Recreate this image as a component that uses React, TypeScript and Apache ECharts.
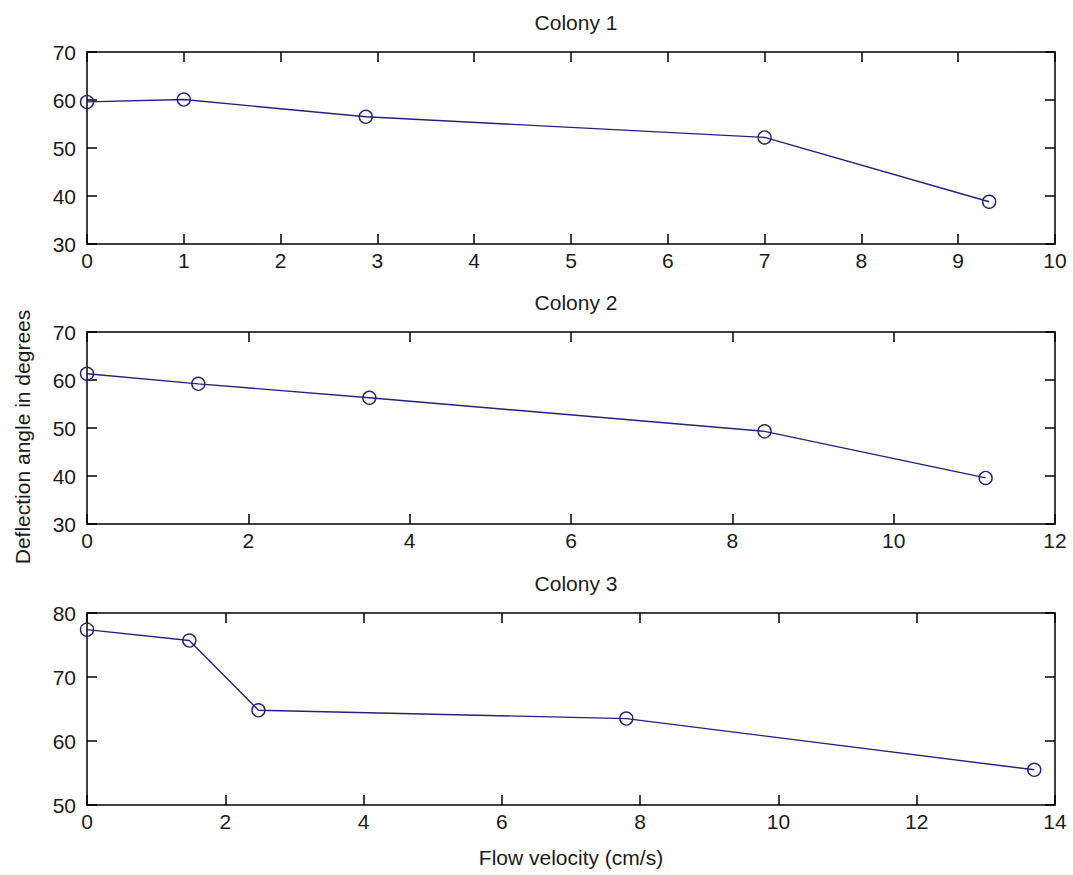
import React, { useEffect, useRef } from "react";
import * as echarts from "echarts";

const colony1X = [0, 1, 2.88, 7, 9.32];
const colony1Y = [59.6, 60.1, 56.5, 52.2, 38.8];
const colony2X = [0, 1.38, 3.5, 8.4, 11.14];
const colony2Y = [61.3, 59.2, 56.3, 49.3, 39.6];
const colony3X = [0, 1.48, 2.48, 7.8, 13.7];
const colony3Y = [77.4, 75.7, 64.8, 63.5, 55.5];

const titles = ["Colony 1", "Colony 2", "Colony 3"];
const xRanges = [
  { min: 0, max: 10, interval: 1 },
  { min: 0, max: 12, interval: 2 },
  { min: 0, max: 14, interval: 2 },
];
const yRanges = [
  { min: 30, max: 70, interval: 10 },
  { min: 30, max: 70, interval: 10 },
  { min: 50, max: 80, interval: 10 },
];
const xLabel = "Flow velocity (cm/s)";
const yLabel = "Deflection angle in degrees";

const FONT = "'Liberation Sans', Arial, Helvetica, sans-serif";
const LINE = "#23237a";
const INK = "#1a1a1a";

export default function App() {
  const ref = useRef<HTMLDivElement>(null);
  useEffect(() => {
    if (!ref.current) return;
    const chart = echarts.init(ref.current, undefined, { renderer: "svg" });
    const tops = [52, 332, 613];
    const grids = tops.map((t) => ({ left: 87, top: t, width: 968, height: 192 }));
    const xAxes: any[] = [];
    const yAxes: any[] = [];
    const series: any[] = [];
    const datasets = [
      [colony1X, colony1Y],
      [colony2X, colony2Y],
      [colony3X, colony3Y],
    ];
    const axisLine = { show: true, onZero: false, lineStyle: { color: "#000", width: 1.5 } };
    const tick = { show: true, inside: true, length: 10, lineStyle: { color: "#000", width: 1.5 } };
    const label = { color: INK, fontSize: 21, fontFamily: FONT };
    datasets.forEach((d, i) => {
      const xr = xRanges[i];
      const yr = yRanges[i];
      xAxes.push({
        type: "value", gridIndex: i, position: "bottom", ...xr,
        axisLine, axisTick: tick, splitLine: { show: false },
        axisLabel: { ...label, margin: 6 },
      });
      xAxes.push({
        type: "value", gridIndex: i, position: "top", ...xr,
        axisLine, axisTick: tick, splitLine: { show: false },
        axisLabel: { show: false },
      });
      yAxes.push({
        type: "value", gridIndex: i, position: "left", ...yr,
        axisLine, axisTick: tick, splitLine: { show: false },
        axisLabel: { ...label, margin: 11 },
      });
      yAxes.push({
        type: "value", gridIndex: i, position: "right", ...yr,
        axisLine, axisTick: tick, splitLine: { show: false },
        axisLabel: { show: false },
      });
      series.push({
        type: "line",
        xAxisIndex: i * 2,
        yAxisIndex: i * 2,
        data: d[0].map((x, k) => [x, d[1][k]]),
        symbol: "circle",
        symbolSize: 13,
        clip: false,
        lineStyle: { color: LINE, width: 1.4 },
        itemStyle: { color: "rgba(0,0,0,0)", borderColor: LINE, borderWidth: 1.4 },
      });
    });
    chart.setOption({
      animation: false,
      backgroundColor: "#fff",
      grid: grids,
      xAxis: xAxes,
      yAxis: yAxes,
      series,
      title: titles.map((t, i) => ({
        text: t,
        left: 571,
        textAlign: "center",
        top: tops[i] - 45,
        textStyle: { color: INK, fontSize: 21, fontWeight: "normal", fontFamily: FONT },
      })),
      graphic: [
        {
          type: "text",
          x: 571,
          y: 857,
          style: {
            text: xLabel, fill: INK, fontSize: 21, fontFamily: FONT,
            align: "center", verticalAlign: "middle",
          },
        },
        {
          type: "text",
          x: 22,
          y: 437,
          rotation: Math.PI / 2,
          style: {
            text: yLabel, fill: INK, fontSize: 21, fontFamily: FONT,
            align: "center", verticalAlign: "middle",
          },
        },
      ],
    });
    return () => chart.dispose();
  }, []);
  return (
    <div
      ref={ref}
      style={{ position: "absolute", left: 0, top: 0, width: 1073, height: 875 }}
    />
  );
}
